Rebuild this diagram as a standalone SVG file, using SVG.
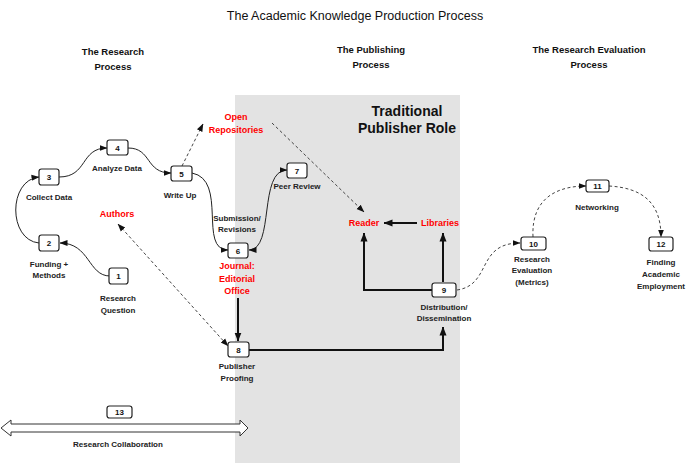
<svg xmlns="http://www.w3.org/2000/svg" width="700" height="463" viewBox="0 0 700 463">
<style>
text{font-family:"Liberation Sans",Arial,sans-serif;text-anchor:middle;fill:#111}
.title{font-size:12.5px}
.hdr{font-size:9.5px;font-weight:bold}
.lbl{font-size:8px;font-weight:bold;fill:#222}
.red{font-size:9px;font-weight:bold;fill:#ff0000}
.big{font-size:14px;font-weight:bold}
.num{font-size:8px;font-weight:bold}
.box{fill:#fff;stroke:#222;stroke-width:1.2}
.thin{fill:none;stroke:#222;stroke-width:1}
.dash{fill:none;stroke:#444;stroke-width:1;stroke-dasharray:3,2.5}
.thick{fill:none;stroke:#111;stroke-width:2}
</style>
<defs>
<marker id="ah" markerUnits="userSpaceOnUse" markerWidth="8" markerHeight="8" viewBox="0 0 8 8" refX="7.5" refY="4" orient="auto-start-reverse">
<path d="M0,1 L8,4 L0,7 Z" fill="#111"/>
</marker>
<marker id="ahb" markerUnits="userSpaceOnUse" markerWidth="9" markerHeight="9" viewBox="0 0 9 9" refX="8.5" refY="4.5" orient="auto-start-reverse">
<path d="M0,1 L9,4.5 L0,8 Z" fill="#111"/>
</marker>
</defs>
<rect x="0" y="0" width="700" height="463" fill="#fff"/>
<rect id="publisher-region" x="235" y="95" width="225" height="368" fill="#e3e3e3"/>
<text class="title" x="355" y="20">The Academic Knowledge Production Process</text>
<g id="headers">
<text class="hdr" x="113" y="55">The Research</text>
<text class="hdr" x="113" y="70">Process</text>
<text class="hdr" x="371" y="53">The Publishing</text>
<text class="hdr" x="371" y="68">Process</text>
<text class="hdr" x="589" y="53">The Research Evaluation</text>
<text class="hdr" x="589" y="68">Process</text>
</g>
<text class="big" x="407" y="116">Traditional</text>
<text class="big" x="407" y="133">Publisher Role</text>

<g id="connectors">
<path class="thin" d="M110,276 C88,276 90,243 60,243" marker-end="url(#ah)"/>
<path class="thin" d="M39,243 C8,240 8,180 39,177" marker-end="url(#ah)"/>
<path class="thin" d="M59,177 C88,177 80,148 107,148" marker-end="url(#ah)"/>
<path class="thin" d="M128,148 C152,148 145,173 171,173" marker-end="url(#ah)"/>
<path class="thin" d="M192,173 C228,180 198,250 228,250" marker-end="url(#ah)"/>
<path class="thin" d="M249,250 C275,250 258,170 287,170" marker-start="url(#ah)" marker-end="url(#ah)"/>
<path class="dash" d="M182,166 L203,124" marker-end="url(#ah)"/>
<path class="dash" d="M272,123 L364,212" marker-end="url(#ah)"/>
<path class="dash" d="M118,224 L228,346" marker-start="url(#ah)" marker-end="url(#ah)"/>
<path class="thick" d="M238,298 L238,341" marker-end="url(#ahb)"/>
<path class="thick" d="M249,350 L443,350 L443,327" marker-end="url(#ahb)"/>
<path class="thick" d="M432,290 L364,290 L364,233" marker-end="url(#ahb)"/>
<path class="thick" d="M443,282 L443,233" marker-end="url(#ahb)"/>
<path class="thick" d="M417,223 L384,223" marker-end="url(#ahb)"/>
<path class="dash" d="M457,290 C492,285 476,243 520,243" marker-end="url(#ah)"/>
<path class="dash" d="M533,237 C531,196 560,186 586,186" marker-end="url(#ah)"/>
<path class="dash" d="M609,186 C642,188 661,202 661,237" marker-end="url(#ah)"/>
<path d="M1,428 L11,420 L11,424 L240,424 L240,420 L248,428 L240,436 L240,432 L11,432 L11,436 Z" fill="#fff" stroke="#333" stroke-width="1"/>
</g>

<g id="n1"><rect class="box" x="109" y="268" width="19" height="16" rx="2.5"/><text class="num" x="118.5" y="279">1</text><text class="lbl" x="118" y="301">Research</text><text class="lbl" x="118" y="313">Question</text></g>
<g id="n2"><rect class="box" x="39" y="235" width="20" height="16" rx="2.5"/><text class="num" x="49" y="246">2</text><text class="lbl" x="49" y="267">Funding +</text><text class="lbl" x="49" y="278">Methods</text></g>
<g id="n3"><rect class="box" x="39" y="169" width="20" height="16" rx="2.5"/><text class="num" x="49" y="180">3</text><text class="lbl" x="49" y="200">Collect Data</text></g>
<g id="n4"><rect class="box" x="107" y="140" width="21" height="15" rx="2.5"/><text class="num" x="117.5" y="151">4</text><text class="lbl" x="117" y="171">Analyze Data</text></g>
<g id="n5"><rect class="box" x="171" y="166" width="21" height="15" rx="2.5"/><text class="num" x="181.5" y="177">5</text><text class="lbl" x="180" y="198">Write Up</text></g>
<g id="n6"><rect class="box" x="228" y="243" width="20" height="15" rx="2.5"/><text class="num" x="238" y="254">6</text><text class="lbl" x="237" y="221">Submission/</text><text class="lbl" x="237" y="232">Revisions</text><text class="red" x="237" y="269">Journal:</text><text class="red" x="237" y="282">Editorial</text><text class="red" x="237" y="294">Office</text></g>
<g id="n7"><rect class="box" x="287" y="163" width="20" height="15" rx="2.5"/><text class="num" x="297" y="174">7</text><text class="lbl" x="297" y="189">Peer Review</text></g>
<g id="n8"><rect class="box" x="228" y="342" width="21" height="15" rx="2.5"/><text class="num" x="238.5" y="353">8</text><text class="lbl" x="237" y="369">Publisher</text><text class="lbl" x="237" y="381">Proofing</text></g>
<g id="n9"><rect class="box" x="432" y="283" width="24" height="14" rx="2.5"/><text class="num" x="444" y="293">9</text><text class="lbl" x="444" y="310">Distribution/</text><text class="lbl" x="444" y="321">Dissemination</text></g>
<g id="n10"><rect class="box" x="521" y="237" width="25" height="13" rx="2.5"/><text class="num" x="533.5" y="246.5">10</text><text class="lbl" x="532" y="262">Research</text><text class="lbl" x="532" y="273">Evaluation</text><text class="lbl" x="532" y="285">(Metrics)</text></g>
<g id="n11"><rect class="box" x="586" y="180" width="23" height="12" rx="2.5"/><text class="num" x="597.5" y="189">11</text><text class="lbl" x="597" y="210">Networking</text></g>
<g id="n12"><rect class="box" x="649" y="237" width="24" height="14" rx="2.5"/><text class="num" x="661" y="247">12</text><text class="lbl" x="661" y="265">Finding</text><text class="lbl" x="661" y="277">Academic</text><text class="lbl" x="661" y="289">Employment</text></g>
<g id="n13"><rect class="box" x="107" y="406" width="25" height="12" rx="2.5"/><text class="num" x="119.5" y="415">13</text><text class="lbl" x="118" y="447">Research Collaboration</text></g>
<g id="authors"><text class="red" x="117" y="217">Authors</text></g>
<g id="open-repositories"><text class="red" x="236" y="120">Open</text><text class="red" x="236" y="133">Repositories</text></g>
<g id="reader"><text class="red" x="364" y="226">Reader</text></g>
<g id="libraries"><text class="red" x="440" y="226">Libraries</text></g>
</svg>
